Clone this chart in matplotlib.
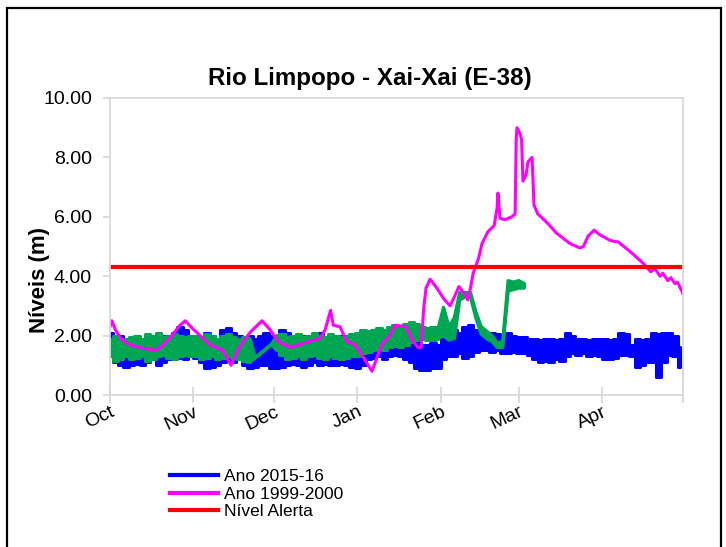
import matplotlib.pyplot as plt
import matplotlib as mpl
import numpy as np
from matplotlib.patches import Rectangle
from matplotlib.lines import Line2D

mpl.rcParams['font.family'] = ['Liberation Sans', 'DejaVu Sans']

# eixo x: dias desde 1 de Outubro
month_days = [0, 31, 61, 92, 123, 152, 183, 213]
month_labels = ['Oct', 'Nov', 'Dec', 'Jan', 'Feb', 'Mar', 'Apr', '']

# Ano 2015-16 (envolvente alto/baixo da oscilacao, de 2 em 2 dias)
blue_days = list(range(0, 213, 2))
blue_hi = [2.1, 1.9, 2.0, 1.8, 1.7, 1.9,
           1.9, 2.0, 1.8, 1.9, 2.0, 1.9, 2.1, 2.3, 2.2, 2.0,
           2.0, 1.9, 2.1, 2.0, 1.8, 2.2, 2.25, 2.1, 2.0, 1.9, 2.0, 1.9, 2.0, 2.1, 2.0,
           2.0, 2.2, 2.1, 2.0, 1.9, 2.0, 1.9, 2.0, 2.1, 1.9, 2.0, 1.9, 2.0, 1.9, 2.0,
           1.9, 1.8, 1.9, 2.0, 1.95, 2.0, 2.1, 2.0, 1.95, 2.0, 1.9, 1.8, 1.7, 1.7, 1.75, 1.7,
           2.0, 2.1, 2.2, 2.1, 2.3, 2.35, 2.2, 2.1, 2.0, 2.1, 2.05, 2.0, 2.1, 2.0, 1.95,
           1.95, 1.9, 1.9, 1.85, 1.9, 1.9, 1.85, 1.9, 2.1, 2.0, 1.9, 1.9, 1.85, 1.9, 1.9,
           1.9, 1.85, 1.9, 2.1, 2.05, 1.7, 1.9, 1.85, 1.9, 2.1, 2.05, 2.1, 2.1, 2.0, 1.6]
blue_lo = [1.3, 1.1, 1.0, 0.95, 1.0, 1.05,
           1.0, 1.1, 1.2, 1.0, 1.1, 1.2, 1.3, 1.25, 1.2, 1.3,
           1.25, 1.1, 0.9, 0.95, 1.0, 1.1, 1.15, 1.1, 1.2, 1.0, 0.9, 0.95, 1.0, 1.0, 0.9,
           0.9, 0.95, 1.0, 1.05, 1.0, 0.95, 1.0, 1.1, 1.0, 1.05, 1.0, 1.0, 1.05, 1.0, 0.95,
           0.9, 1.0, 1.2, 1.25, 1.3, 1.2, 1.3, 1.35, 1.3, 1.2, 1.1, 0.9, 0.85, 0.85, 0.9, 0.9,
           1.2, 1.3, 1.3, 1.4, 1.25, 1.3, 1.45, 1.5, 1.5, 1.45, 1.5, 1.4, 1.4, 1.45, 1.4,
           1.4, 1.35, 1.2, 1.1, 1.15, 1.1, 1.2, 1.15, 1.3, 1.4, 1.35, 1.4, 1.3, 1.35, 1.3,
           1.2, 1.2, 1.25, 1.35, 1.35, 1.3, 0.95, 1.0, 1.1, 1.1, 0.6, 1.1, 1.35, 1.3, 0.95]

# serie verde (sem legenda), ate inicio de Marco
green_days = list(range(0, 155, 2))
green_hi = [1.9, 2.0, 1.85, 1.9, 1.95, 2.0, 1.9, 2.05, 2.0, 2.1, 1.95, 2.0, 2.05, 2.0, 1.95, 2.0,
            2.0, 1.95, 2.05, 2.0, 1.9, 2.0, 2.05, 1.95, 1.9, 1.95, 1.9,
            1.25, 1.4, 1.55, 1.7,
            2.0, 2.05, 1.95, 2.0, 2.05, 1.95, 2.0, 2.1, 2.0, 1.95, 2.05, 2.0, 1.95, 2.0, 2.05,
            2.1, 2.2, 2.15, 2.2, 2.25, 2.2, 2.3, 2.35, 2.3, 2.4, 2.45, 2.4, 2.3, 2.25, 2.3, 2.25,
            2.95, 2.3, 2.6, 3.45, 3.45, 3.45, 2.8, 2.3, 2.15, 2.0, 1.75, 1.8, 3.85, 3.8, 3.85, 3.75]
green_lo = [1.3, 1.15, 1.2, 1.3, 1.2, 1.25, 1.3, 1.15, 1.2, 1.3, 1.35, 1.25, 1.2, 1.3, 1.35, 1.3,
            1.3, 1.2, 1.25, 1.3, 1.2, 1.25, 1.3, 1.25, 1.2, 1.15, 1.1,
            1.25, 1.4, 1.55, 1.7,
            1.5, 1.35, 1.2, 1.25, 1.3, 1.2, 1.3, 1.35, 1.25, 1.2, 1.3, 1.25, 1.2, 1.25, 1.3,
            1.3, 1.4, 1.45, 1.5, 1.55, 1.5, 1.6, 1.65, 1.6, 1.7, 1.8, 1.85, 1.9, 1.85, 1.85, 1.9,
            2.0, 1.85, 1.9, 3.2, 3.3, 3.3, 2.6, 2.05, 1.9, 1.8, 1.6, 1.6, 3.5, 3.55, 3.6, 3.6]

# Ano 1999-2000
mag_days = [0, 0.7, 2, 4, 7, 11, 17, 20, 23, 26, 28, 30, 33.5, 37, 42, 45, 48, 52, 56.5, 59.5,
            62.5, 67, 70.5, 74, 78, 80, 82, 83, 85.5, 88, 91, 94, 96, 97.4, 99, 101, 104, 106,
            110, 112, 114.5, 115.6, 116.7, 117.5, 119, 121.5, 124, 126.4, 128, 129.7, 131, 133,
            134, 135, 137, 138.3, 140.5, 142.8, 143.9, 144.2, 145, 146.8, 149.4, 150.6, 151,
            151.3, 152.4, 153, 153.5, 154.6, 155.4, 156.9, 157.6, 159, 162.5, 166, 171, 174.7,
            176, 177.7, 180, 182, 186, 189, 194.4, 198, 199.6, 201, 202.6, 204.5, 205.5, 207.4,
            208.5, 210, 211, 212, 212.6, 213]
mag_vals = [2.3, 2.5, 2.2, 1.9, 1.7, 1.6, 1.5, 1.7, 2.0, 2.35, 2.5, 2.3, 2.0, 1.7, 1.5, 1.0, 1.6,
            2.1, 2.5, 2.2,
            1.8, 1.6, 1.7, 1.8, 1.9, 2.2, 2.85, 2.35, 2.3, 1.8, 1.7, 1.3, 1.0, 0.8, 1.2, 1.7, 2.0,
            2.35,
            2.3, 1.9, 1.6, 1.6, 3.0, 3.6, 3.9, 3.6, 3.25, 3.0, 3.3, 3.65, 3.5, 3.2,
            3.6, 4.1, 4.6, 5.1, 5.5, 5.7, 6.3, 6.8, 5.95, 5.9, 6.0, 6.1, 8.6,
            9.0, 8.8, 8.6, 7.2, 7.4, 7.85, 8.0, 6.4, 6.1, 5.8, 5.45, 5.1, 4.95,
            5.0, 5.35, 5.55, 5.4, 5.2, 5.15, 4.75, 4.45, 4.3, 4.15, 4.25, 4.0, 4.1, 3.85,
            3.95, 3.75, 3.8, 3.6, 3.5, 3.4]

alert_level = 4.30

BLUE = '#0000ff'
MAGENTA = '#ff00ff'
RED = '#ff0000'
GREEN = '#00a651'

fig = plt.figure(figsize=(7.26, 5.47), dpi=100)
ax = fig.add_axes([110 / 726, 1 - 395 / 547, 573 / 726, 297 / 547])

# banda da mare (alto/baixo) preenchida, em degraus
ax.fill_between(blue_days, blue_lo, blue_hi, step='mid', color=BLUE, lw=2.2, edgecolor=BLUE)
ax.plot(mag_days, mag_vals, color=MAGENTA, lw=2.2)
ax.plot([month_days[0], month_days[-1]], [alert_level, alert_level], color=RED, lw=3.0)

# verde: degraus onde ha mare, linha recta na falha de dados e em Fevereiro
gd = np.array(green_days)
step_part = (gd <= 52) | ((gd >= 62) & (gd <= 122))
line_part = ((gd >= 52) & (gd <= 62)) | (gd >= 122)
ax.fill_between(gd, green_lo, green_hi, where=step_part, step='mid', color=GREEN, lw=2.2,
                edgecolor=GREEN)
ax.fill_between(gd, green_lo, green_hi, where=line_part, color=GREEN, lw=2.4, edgecolor=GREEN)

ax.set_xlim(month_days[0], month_days[-1])
ax.set_ylim(0, 10)
ax.set_yticks(np.arange(0, 10.01, 2))
ax.set_yticklabels(['%.2f' % v for v in np.arange(0, 10.01, 2)], fontsize=14)
ax.set_xticks(month_days)
ax.set_xticklabels(month_labels, fontsize=14, rotation=25, ha='right', rotation_mode='anchor')

for s in ax.spines.values():
    s.set_color('#d9d9d9')
    s.set_linewidth(1.3)
ax.tick_params(axis='y', direction='out', length=5, width=1.3, color='#d9d9d9', pad=8)
ax.tick_params(axis='x', direction='inout', length=12, width=1.3, color='#d9d9d9', pad=0)

fig.text(370 / 726, 1 - 78 / 547, 'Rio Limpopo - Xai-Xai (E-38)', fontsize=17.4, fontweight='bold',
         ha='center', va='center')
fig.text(40 / 726, 1 - 280 / 547, 'Níveis (m)', fontsize=16, fontweight='bold',
         rotation=90, ha='center', va='center')

handles = [Line2D([], [], color=BLUE, lw=3),
           Line2D([], [], color=MAGENTA, lw=3),
           Line2D([], [], color=RED, lw=3)]
fig.legend(handles, ['Ano 2015-16', 'Ano 1999-2000', 'Nível Alerta'], loc='upper left',
           bbox_to_anchor=(170 / 726, 1 - 469 / 547), frameon=False, fontsize=12.5,
           handlelength=2.75, handletextpad=0.35, labelspacing=0.14, borderpad=0, borderaxespad=0)

# moldura preta
fig.add_artist(Rectangle((7 / 726, -0.05), 714 / 726, 1.05 - 8 / 547, transform=fig.transFigure,
                         fill=False, edgecolor='black', lw=1.6, clip_on=False))

plt.savefig('out.png', dpi=100)
